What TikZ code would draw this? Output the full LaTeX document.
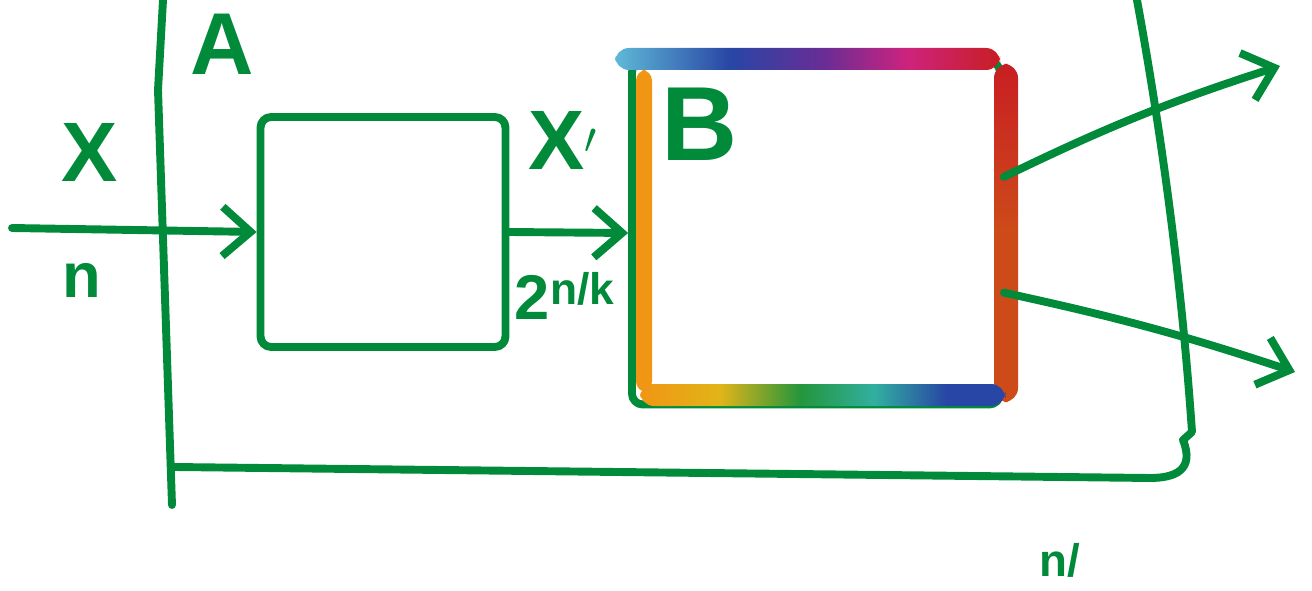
\documentclass[tikz,border=0pt]{standalone}
\usepackage{fontspec}
\setmainfont{Liberation Sans}
\usetikzlibrary{positioning, arrows.meta, calc}
\definecolor{pencol}{RGB}{0, 138, 58}
\definecolor{glcyan}{RGB}{95, 185, 215}
\definecolor{glblue}{RGB}{40, 70, 165}
\definecolor{glpurple}{RGB}{105, 45, 150}
\definecolor{glmagenta}{RGB}{205, 35, 125}
\definecolor{glred}{RGB}{200, 30, 35}
\definecolor{glrust}{RGB}{205, 75, 25}
\definecolor{glorange}{RGB}{240, 150, 20}
\definecolor{glyellow}{RGB}{225, 180, 25}
\definecolor{glgreen}{RGB}{35, 150, 60}
\definecolor{glteal}{RGB}{50, 175, 160}
\pgfdeclarehorizontalshading{gltop}{100bp}{color(0bp)=(glcyan); color(25bp)=(glcyan); color(40bp)=(glblue); color(52bp)=(glpurple); color(63bp)=(glmagenta); color(75bp)=(glred); color(100bp)=(glred)}
\pgfdeclarehorizontalshading{glbottom}{100bp}{color(0bp)=(glorange); color(25bp)=(glorange); color(36bp)=(glyellow); color(47bp)=(glgreen); color(57bp)=(glteal); color(67bp)=(glblue); color(75bp)=(glblue); color(100bp)=(glblue)}
\pgfdeclareverticalshading{glright}{100bp}{color(0bp)=(glrust); color(25bp)=(glrust); color(50bp)=(glrust); color(75bp)=(glred); color(100bp)=(glred)}

\begin{document}
\begin{tikzpicture}[x=0.02cm, y=-0.02cm, line cap=round, line join=round,
      pen/.style={draw=pencol, line width=4.5pt},
      arr/.style={pen, -{Straight Barb[length=16pt, width=28pt, line width=4.5pt]}},
      blk/.style={pen, rectangle, rounded corners=6pt, inner sep=0pt},
      lbl/.style={text=pencol, font=\bfseries\fontsize{48}{52}\selectfont, inner sep=0pt}]
    \useasboundingbox (0,0) rectangle (1312,591);
    \node[blk, minimum width=4.9cm, minimum height=4.6cm] (enc) at (383,232) {};
    \node[blk, minimum width=7.36cm, minimum height=6.86cm] (dec) at (816,233) {};
    \shade[shading=gltop, rounded corners=8pt] (615,48) rectangle (1000,70);
    \shade[shading=glright, rounded corners=8pt] (994,64) rectangle (1018,402);
    \shade[shading=glbottom, rounded corners=8pt] (640,384) rectangle (1005,406);
    \fill[glorange, rounded corners=6pt] (636,70) rectangle (652,392);
    \draw[pen] (163,0) -- (158,90) -- (172,505);
    \draw[pen] (1137,0) .. controls (1170,180) and (1185,330) .. (1192,432)
      -- (1183,440) .. controls (1195,470) and (1175,478) .. (1150,478) -- (175,467);
    \coordinate (in) at (12,228);
    \coordinate (out1) at (1280,66);
    \coordinate (out2) at (1295,372);
    \draw[arr] (in) -- (enc.west);
    \draw[arr] (enc.east) -- (dec.west);
    \draw[arr] ($(dec.north east)!0.34!(dec.south east)$) to[bend left=4] (out1);
    \draw[arr] ($(dec.north east)!0.67!(dec.south east)$) to[bend left=3] (out2);
    \node[lbl, font=\bfseries\fontsize{50}{54}\selectfont] (lA) at (222,44) {A};
    \node[lbl] (lX) at (90,152) {X};
    \node[lbl, font=\bfseries\fontsize{36}{40}\selectfont] (ln) at (82,280) {n};
    \node[lbl] (lXp) at (563,140) {X$'$};
    \node[lbl, font=\bfseries\fontsize{36}{40}\selectfont] (lexp) at (565,296) {2\textsuperscript{n/k}};
    \node[lbl, font=\bfseries\fontsize{60}{64}\selectfont] (lB) at (700,124) {B};
    \node[lbl, font=\bfseries\fontsize{26}{30}\selectfont] (lbot) at (1060,560) {n/};
  \end{tikzpicture}
\end{document}
